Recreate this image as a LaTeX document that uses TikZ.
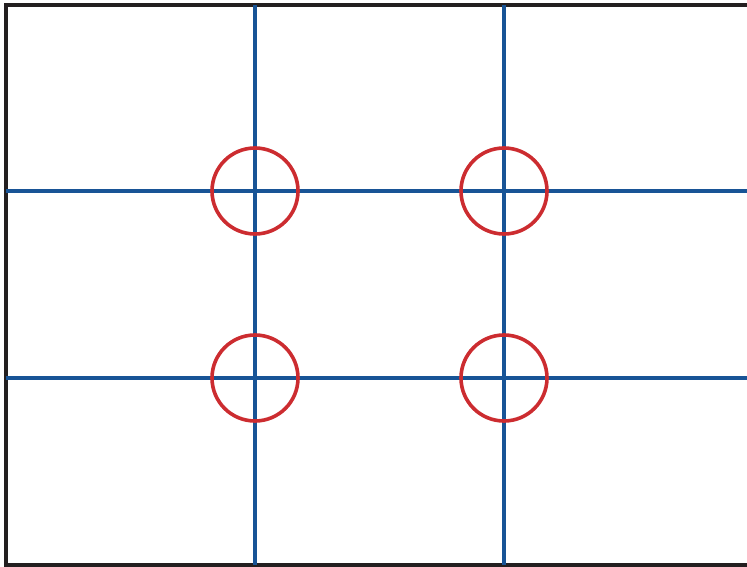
\documentclass[tikz,border=0pt]{standalone}
\definecolor{gridblue}{RGB}{24,84,150}
\definecolor{ringred}{RGB}{204,44,48}
\definecolor{framegray}{RGB}{35,31,32}
\begin{document}
\begin{tikzpicture}[
 x=1pt,y=-1pt,
 frame/.style={draw=framegray,line width=4pt},
 third/.style={draw=gridblue,line width=3.4pt},
 ring/.style={circle,draw=ringred,line width=3.6pt,minimum size=86pt,inner sep=0pt}]
 % Picture area, the frame runs on past the right edge.
 \clip (0,0) rectangle (747,567);
 \coordinate (tl) at (6,5); \coordinate (br) at (760,565);
 \draw[frame] (tl) rectangle (br);
 % Lines at one and two thirds.
 \coordinate (v1) at (255,5); \coordinate (v2) at (504,5);
 \coordinate (h1) at (6,191); \coordinate (h2) at (6,378);
 \draw[third] (v1)--(v1|-br) (v2)--(v2|-br);
 \draw[third] (h1)--(h1-|br) (h2)--(h2-|br);
 % Rings on the four crossings.
 \foreach \v in {1,2}{
  \foreach \h in {1,2}{\node[ring] (c\v\h) at (v\v|-h\h){};}
 }
\end{tikzpicture}
\end{document}
